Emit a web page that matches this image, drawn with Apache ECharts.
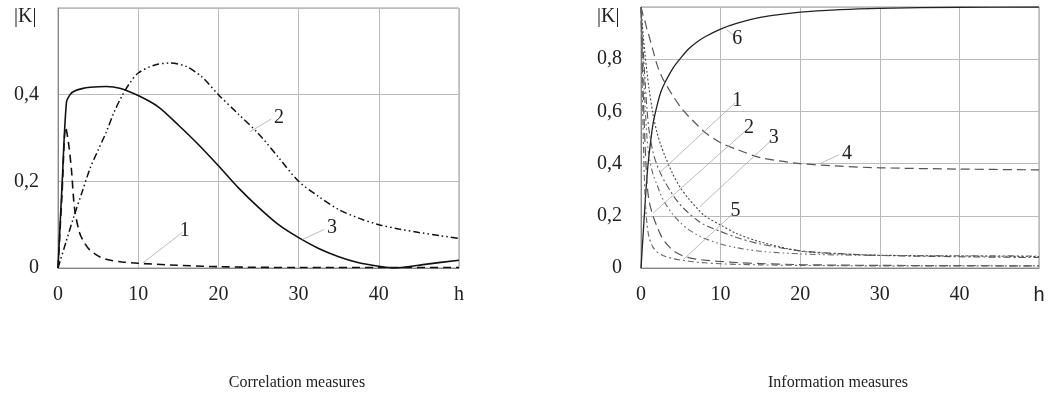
<!DOCTYPE html>
<html>
<head>
<meta charset="utf-8">
<script src="https://cdn.jsdelivr.net/npm/echarts@6/dist/echarts.min.js"></script>
<style>
  html, body { margin: 0; padding: 0; background: #fff; }
  #main { width: 1049px; height: 396px; }
</style>
</head>
<body>
<div id="main"></div>
<script>
// left chart: correlation measures
var hL1 = [0, 0.5, 0.96, 1.3, 1.67, 2.08, 2.7, 3.3, 3.95, 5, 6, 8, 10, 14, 20, 30, 40, 50];
var vL1 = [0, 0.17, 0.325, 0.29, 0.228, 0.135, 0.081, 0.058, 0.042, 0.028, 0.02, 0.014, 0.011, 0.007, 0.003, 0.001, 0.001, 0.001];
var hL2 = [0, 1, 2, 3, 4, 5, 6, 7, 8, 9, 10, 12, 14, 16, 18, 20, 22.5, 25, 27.5, 30, 32.5, 35, 37.5, 40, 42.5, 45, 47.5, 50];
var vL2 = [0, 0.06, 0.12, 0.175, 0.23, 0.272, 0.313, 0.36, 0.398, 0.428, 0.45, 0.468, 0.473, 0.465, 0.44, 0.40, 0.355, 0.31, 0.255, 0.20, 0.165, 0.135, 0.115, 0.1, 0.09, 0.082, 0.075, 0.068];
var hL3 = [0, 0.5, 1.05, 1.5, 2, 3, 4, 6, 7.7, 10, 12.5, 15, 17.5, 20, 22.5, 25, 27.5, 30, 32.5, 35, 37.5, 40, 42, 46, 50];
var vL3 = [0, 0.19, 0.382, 0.400, 0.408, 0.414, 0.417, 0.419, 0.415, 0.398, 0.372, 0.33, 0.285, 0.236, 0.185, 0.14, 0.1, 0.070, 0.045, 0.026, 0.012, 0.004, 0.0, 0.009, 0.018];

// right chart: information measures
var hR = [0, 0.25, 0.5, 0.75, 1, 1.5, 2, 2.5, 3, 4, 5, 6, 7, 8, 10, 12, 15, 20, 25, 30, 40, 50];
var vR1 = [1.0, 0.85, 0.72, 0.61, 0.53, 0.445, 0.395, 0.36, 0.33, 0.28, 0.24, 0.21, 0.185, 0.165, 0.14, 0.117, 0.092, 0.066, 0.055, 0.048, 0.043, 0.04];
var vR2 = [1.0, 0.7, 0.48, 0.33, 0.26, 0.2, 0.16, 0.125, 0.1, 0.068, 0.05, 0.04, 0.034, 0.03, 0.025, 0.021, 0.017, 0.013, 0.011, 0.01, 0.009, 0.008];
var vR3 = [1.0, 0.9, 0.82, 0.75, 0.69, 0.59, 0.52, 0.47, 0.43, 0.36, 0.305, 0.265, 0.23, 0.2, 0.165, 0.132, 0.1, 0.065, 0.054, 0.049, 0.046, 0.044];
var vR4 = [1.0, 0.97, 0.945, 0.915, 0.89, 0.835, 0.78, 0.74, 0.71, 0.66, 0.615, 0.58, 0.55, 0.52, 0.48, 0.455, 0.423, 0.40, 0.39, 0.384, 0.379, 0.376];
var vR5 = [1.0, 0.55, 0.28, 0.17, 0.12, 0.08, 0.062, 0.052, 0.045, 0.036, 0.03, 0.026, 0.022, 0.02, 0.016, 0.014, 0.012, 0.01, 0.009, 0.008, 0.008, 0.008];
var vR6 = [0, 0.12, 0.24, 0.35, 0.43, 0.55, 0.62, 0.675, 0.71, 0.765, 0.805, 0.84, 0.865, 0.885, 0.915, 0.937, 0.96, 0.98, 0.99, 0.995, 0.999, 1.0];
var vR7 = [1.0, 0.8, 0.63, 0.5, 0.43, 0.36, 0.32, 0.28, 0.25, 0.205, 0.172, 0.147, 0.128, 0.113, 0.092, 0.078, 0.064, 0.054, 0.05, 0.048, 0.047, 0.046];

var xTicks = [0, 10, 20, 30, 40];
var captions = ['Correlation measures', 'Information measures'];

// leader lines: [label, [h from, K from], [h to, K to]]
var leadersL = [
  ['1', [10.6, 0.012], [15.5, 0.082]],
  ['2', [23.9, 0.314], [26.6, 0.344]],
  ['3', [30.5, 0.066], [33.2, 0.089]]
];
var leadersR = [
  ['1', [2.5, 0.37], [11.8, 0.632]],
  ['2', [1.5, 0.21], [13.3, 0.53]],
  ['3', [7.4, 0.235], [16.4, 0.49]],
  ['4', [22.6, 0.402], [24.9, 0.434]],
  ['5', [5.3, 0.032], [11.6, 0.21]],
  ['6', [10.75, 0.913], [11.8, 0.887]]
];

var SERIF = '"Liberation Serif", "Times New Roman", serif';

function pairs(xs, ys) {
  return xs.map(function (x, i) { return [x, ys[i]]; });
}

function kLabel(v) {
  if (v === 0) return '0';
  return v.toFixed(1).replace('.', ',');
}

function makeX(idx, sansH) {
  return {
    type: 'value', gridIndex: idx, min: 0, max: 50, interval: 10,
    axisLine: { show: true, lineStyle: { color: '#888' } },
    axisTick: { show: false },
    splitLine: { show: true, lineStyle: { color: '#bbb', width: 1 } },
    axisLabel: {
      margin: 17, fontFamily: SERIF, fontSize: 20, color: '#222',
      formatter: function (v) {
        if (v === 50) return sansH ? '{s|h}' : 'h';
        return xTicks.indexOf(v) >= 0 ? String(v) : '';
      },
      rich: { s: { fontFamily: '"Liberation Sans", Arial, sans-serif', fontSize: 20, color: '#222' } }
    }
  };
}

function makeY(idx, max) {
  return {
    type: 'value', gridIndex: idx, min: 0, max: max, interval: 0.2,
    axisLine: { show: true, lineStyle: { color: '#888' } },
    axisTick: { show: false },
    splitLine: { show: true, lineStyle: { color: '#bbb', width: 1 } },
    axisLabel: {
      margin: 19, fontFamily: SERIF, fontSize: 20, color: '#222',
      formatter: function (v) { return v >= max - 1e-9 ? '' : kLabel(v); }
    }
  };
}

function makeLeaders(list) {
  return {
    silent: true, symbol: ['none', 'none'], animation: false,
    lineStyle: { color: '#aaa', width: 0.8, type: 'solid' },
    label: {
      show: true, position: 'end', distance: 3, formatter: '{b}',
      fontFamily: SERIF, fontSize: 20, color: '#222'
    },
    emphasis: { disabled: true },
    data: list.map(function (l) {
      return [{ coord: l[1], name: l[0] }, { coord: l[2], name: l[0] }];
    })
  };
}

function curve(idx, data, color, width, dash, leaders) {
  var s = {
    type: 'line', xAxisIndex: idx, yAxisIndex: idx,
    data: data, showSymbol: false, smooth: 0.3,
    lineStyle: { color: color, width: width, type: dash },
    z: 3
  };
  if (leaders) s.markLine = makeLeaders(leaders);
  return s;
}

var chart = echarts.init(document.getElementById('main'));
chart.setOption({
  animation: false,
  backgroundColor: '#fff',
  grid: [
    { left: 58, top: 8, width: 401, height: 260, show: true, borderColor: '#999', borderWidth: 1 },
    { left: 641, top: 7, width: 398, height: 261, show: true, borderColor: '#999', borderWidth: 1 }
  ],
  xAxis: [makeX(0, false), makeX(1, true)],
  yAxis: [makeY(0, 0.6), makeY(1, 1.0)],
  graphic: [
    { type: 'text', left: 14, top: 7, style: { text: '|K|', fontFamily: SERIF, fontSize: 20, fill: '#222' } },
    { type: 'text', left: 597, top: 7, style: { text: '|K|', fontFamily: SERIF, fontSize: 20, fill: '#222' } },
    { type: 'text', x: 297, y: 383, style: { text: captions[0], fontFamily: SERIF, fontSize: 16, fill: '#222', align: 'center', verticalAlign: 'middle' } },
    { type: 'text', x: 838, y: 383, style: { text: captions[1], fontFamily: SERIF, fontSize: 16, fill: '#222', align: 'center', verticalAlign: 'middle' } }
  ],
  series: [
    curve(0, pairs(hL3, vL3), '#111', 1.6, 'solid', leadersL),
    curve(0, pairs(hL1, vL1), '#111', 1.6, [8, 5], null),
    curve(0, pairs(hL2, vL2), '#111', 1.5, [7, 3, 1.5, 3, 1.5, 3], null),

    curve(1, pairs(hR, vR6), '#222', 1.3, 'solid', leadersR),
    curve(1, pairs(hR, vR4), '#555', 1.2, [9, 5], null),
    curve(1, pairs(hR, vR1), '#555', 1.1, [7, 3, 2, 3], null),
    curve(1, pairs(hR, vR3), '#444', 1.1, [2, 2], null),
    curve(1, pairs(hR, vR7), '#666', 1.1, [6, 3, 1.5, 3, 1.5, 3], null),
    curve(1, pairs(hR, vR2), '#555', 1.2, [9, 5], null),
    curve(1, pairs(hR, vR5), '#666', 1.1, [6, 3, 2, 3], null)
  ]
});
</script>
</body>
</html>
